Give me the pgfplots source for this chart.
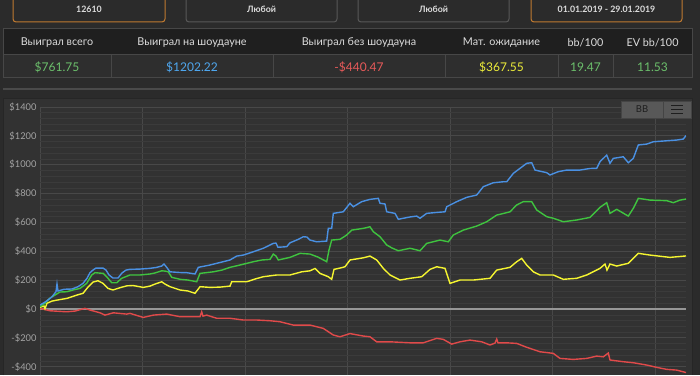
\documentclass[border=0pt]{standalone}
\usepackage{fontspec}
\setmainfont{Lato}
\usepackage{pgfplots}
\pgfplotsset{compat=1.18}
\usepackage{pgfplotstable}

\definecolor{bg}{HTML}{2B2B2B}
\definecolor{panel}{HTML}{323232}
\definecolor{hdr}{HTML}{1F1F1F}
\definecolor{cell}{HTML}{2E2E2E}
\definecolor{cellline}{HTML}{474747}
\definecolor{gridmaj}{HTML}{484848}
\definecolor{gridmin}{HTML}{3B3B3B}
\definecolor{tickc}{HTML}{A4A4A4}
\definecolor{orangeb}{HTML}{C07A30}
\definecolor{btnb}{HTML}{585858}
\definecolor{sepc}{HTML}{4A4A4A}
\definecolor{panelb}{HTML}{262626}
\definecolor{zeroc}{HTML}{969696}
\definecolor{bbline}{HTML}{444444}
\definecolor{bbtext}{HTML}{1E1E1E}
\definecolor{cblue}{HTML}{4A90E2}
\definecolor{cgreen}{HTML}{3FC33F}
\definecolor{cyellow}{HTML}{F5F530}
\definecolor{cred}{HTML}{E04A4A}
\definecolor{vgreen}{HTML}{6CC06C}
\definecolor{vblue}{HTML}{4FA8F0}
\definecolor{vred}{HTML}{E85A5A}
\definecolor{vyellow}{HTML}{EDED3A}
\definecolor{txt}{HTML}{DDDDDD}

\pgfplotstableread{
x y
0 28
40 44
70 58
120 85
160 120
170 173
180 125
240 137
320 139
380 155
430 178
470 213
500 252
530 270
560 284
630 284
660 270
690 236
730 215
780 215
820 250
860 270
900 275
1000 277
1100 282
1160 288
1217 298
1240 312
1267 289
1300 258
1400 253
1467 252
1550 243
1583 289
1700 305
1767 317
1900 340
1967 367
2033 374
2133 397
2233 421
2333 455
2360 457
2380 428
2467 432
2500 459
2583 483
2633 501
2670 499
2700 478
2767 466
2867 471
2883 559
2917 559
2933 663
3033 674
3100 733
3133 709
3217 744
3300 760
3383 767
3400 733
3450 728
3467 674
3550 663
3583 622
3633 629
3700 638
3767 644
3800 629
3867 663
3960 669
4050 674
4067 709
4167 744
4267 774
4367 790
4433 848
4533 875
4633 882
4667 882
4733 940
4800 975
4867 1010
4917 1014
4950 963
5067 945
5100 929
5183 952
5267 963
5400 963
5500 974
5567 975
5600 1021
5667 1067
5700 1010
5733 1044
5833 1055
5883 1014
5933 1044
5983 1137
6067 1143
6133 1159
6267 1166
6367 1171
6433 1178
6460 1202
}\blue

\pgfplotstableread{
x y
0 16
50 40
100 76
150 97
200 118
270 120
330 132
400 143
467 178
517 236
550 252
633 247
667 224
717 182
767 182
817 213
900 236
1000 236
1100 243
1150 250
1217 265
1250 263
1283 258
1317 220
1400 206
1480 201
1567 189
1600 247
1733 258
1820 270
1900 289
2000 305
2133 328
2220 340
2300 344
2333 381
2360 367
2383 340
2500 358
2600 386
2700 381
2780 360
2867 328
2890 409
2917 478
3000 483
3067 513
3117 547
3233 559
3300 570
3333 536
3400 501
3467 444
3520 423
3583 404
3700 421
3800 404
3867 455
4000 478
4083 466
4133 513
4233 547
4367 575
4467 605
4567 651
4650 665
4700 674
4767 721
4833 744
4917 744
4967 686
5067 640
5133 629
5233 605
5367 617
5500 635
5600 705
5667 737
5700 663
5767 691
5883 644
5933 698
5983 767
6100 755
6267 751
6333 737
6400 755
6460 762
}\green

\pgfplotstableread{
x y
0 12
40 21
50 3
70 40
120 55
170 62
270 74
370 97
430 109
480 152
530 187
580 196
630 178
680 143
730 132
800 148
870 161
930 163
1033 150
1100 159
1150 173
1217 189
1250 173
1300 155
1400 132
1480 125
1550 109
1600 155
1700 150
1800 152
1900 159
1917 189
2067 189
2150 208
2233 224
2367 236
2500 236
2617 258
2700 265
2750 281
2800 247
2883 224
2917 206
2940 275
3000 284
3050 293
3100 340
3233 355
3300 367
3367 340
3433 282
3500 236
3600 201
3700 213
3817 224
3900 275
3967 293
4050 282
4100 178
4200 201
4333 201
4500 213
4567 270
4700 289
4767 328
4817 351
4867 305
4933 258
5000 236
5133 236
5233 206
5367 213
5467 236
5600 282
5650 312
5670 270
5700 312
5767 298
5883 317
5983 386
6100 374
6300 358
6460 368
}\yellow

\pgfplotstableread{
x y
0 5
100 -12
267 -19
350 -14
450 5
500 -7
600 -26
650 -42
733 -26
867 -35
900 -30
1033 -58
1133 -42
1267 -35
1400 -53
1600 -53
1617 -19
1630 -49
1667 -42
1767 -64
1900 -64
2033 -76
2167 -76
2300 -81
2400 -88
2533 -111
2700 -111
2833 -134
2933 -180
3000 -192
3100 -170
3233 -187
3300 -192
3367 -227
3500 -227
3700 -234
3833 -234
3967 -203
4033 -210
4117 -243
4200 -227
4300 -215
4417 -227
4500 -249
4550 -236
4567 -208
4580 -234
4667 -234
4767 -238
4867 -265
5000 -296
5133 -307
5200 -342
5333 -349
5467 -342
5567 -326
5633 -331
5683 -305
5700 -353
5833 -365
5933 -372
6067 -388
6167 -404
6267 -418
6367 -423
6460 -440
}\red

\begin{document}
\begin{tikzpicture}[x=1pt,y=1pt]
\useasboundingbox (0,0) rectangle (700,375);
\fill[bg] (0,0) rectangle (700,375);
% top buttons
\draw[orangeb, line width=1pt, fill=bg, rounded corners=3pt] (13,353) rectangle (165,390);
\draw[btnb, line width=1pt, fill=bg, rounded corners=3pt] (186,353) rectangle (337,390);
\draw[btnb, line width=1pt, fill=bg, rounded corners=3pt] (358,353) rectangle (509,390);
\draw[orangeb, line width=1pt, fill=bg, rounded corners=3pt] (531,353) rectangle (682,390);
\begin{scope}[every node/.style={text=txt, font=\fontsize{8.8}{10}\selectfont\bfseries}]
\node at (89,366) {12610};
\node at (261.5,366) {Любой};
\node at (433.5,366) {Любой};
\node at (606.5,366) {01.01.2019 - 29.01.2019};
\end{scope}
% table
\fill[hdr] (3,320) rectangle (692,346);
\fill[cell] (3,297) rectangle (692,320);
\draw[cellline, line width=1pt] (3,297) rectangle (692,346);
\draw[cellline, line width=1pt] (3,320) -- (692,320);
\foreach \cx in {111,273,445,558,613} {\draw[cellline, line width=1pt] (\cx,297) -- (\cx,320);}
\begin{scope}[every node/.style={text=txt, font=\fontsize{10.8}{12}\selectfont}]
\node at (57,332) {Выиграл всего};
\node at (192,332) {Выиграл на шоудауне};
\node at (359,332) {Выиграл без шоудауна};
\node at (501.5,332) {Мат. ожидание};
\node at (585.5,332) {bb/100};
\node at (652.5,332) {EV bb/100};
\end{scope}
\begin{scope}[every node/.style={font=\fontsize{12}{14}\selectfont}]
\node[text=vgreen] at (57,308) {\$761.75};
\node[text=vblue] at (192,308) {\$1202.22};
\node[text=vred] at (359,308) {-\$440.47};
\node[text=vyellow] at (501.5,308) {\$367.55};
\node[text=vgreen] at (585.5,308) {19.47};
\node[text=vgreen] at (652.5,308) {11.53};
\end{scope}
% separator and panel
\draw[sepc, line width=1.5pt] (3,286) -- (692,286);
\fill[panel] (3,0) rectangle (692,276);
\draw[panelb, line width=1pt] (3,0) -- (3,276) -- (692,276) -- (692,0);
\begin{axis}[
  at={(40pt,0pt)}, anchor=south west,
  scale only axis, width=646pt, height=268pt,
  xmin=0, xmax=6460, ymin=-457, ymax=1400,
  xtick={0,1025,2050,3075,4100,5125,6150},
  xticklabels={},
  ytick={-400,-200,...,1400},
  yticklabels={-\$400,-\$200,\$0,\$200,\$400,\$600,\$800,\$1000,\$1200,\$1400},
  minor y tick num=4,
  grid=both,
  major grid style={gridmaj, line width=0.9pt},
  minor grid style={gridmin, line width=0.6pt},
  axis line style={draw=none},
  tick style={draw=none},
  yticklabel style={font=\fontsize{9.3}{10}\selectfont, text=tickc},
  axis background/.style={fill=panel},
]
\addplot[zeroc, line width=1.6pt] coordinates {(0,0) (6460,0)};
\addplot[cred, line width=1.4pt] table {\red};
\addplot[cyellow, line width=1.4pt] table {\yellow};
\addplot[cgreen, line width=1.4pt] table {\green};
\addplot[cblue, line width=1.4pt] table {\blue};
\end{axis}
% BB button
\fill[btnb] (621,257) rectangle (691,274);
\draw[bbline, line width=0.8pt] (621,257) rectangle (691,274);
\draw[bbline, line width=0.8pt] (663,257) -- (663,274);
\node[text=bbtext, font=\fontsize{9.5}{10}\selectfont] at (642,265.5) {BB};
\foreach \hy in {261.5,265.5,269.5} {\draw[bbtext, line width=1.6pt] (671,\hy) -- (683,\hy);}
\end{tikzpicture}
\end{document}
